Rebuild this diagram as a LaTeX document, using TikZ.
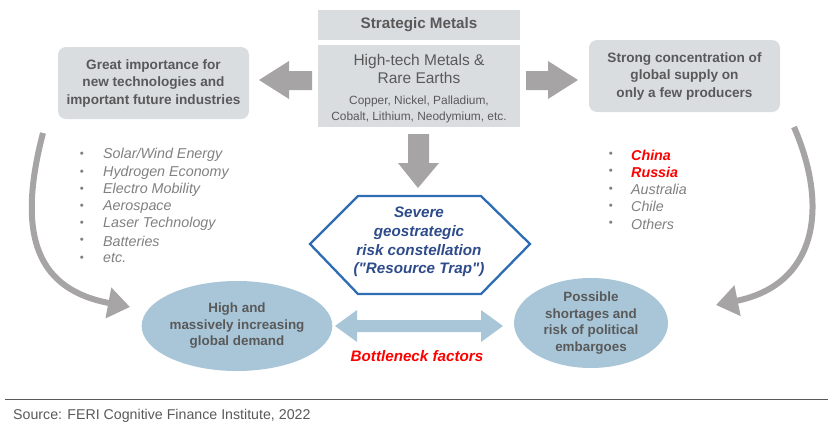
\documentclass[tikz,border=0pt]{standalone}
\usepackage{fontspec}
\setmainfont{Liberation Sans}
\newfontfamily\hexfont{Liberation Sans}
\usetikzlibrary{shapes.geometric,arrows.meta}
\definecolor{txtgray}{HTML}{595959}
\definecolor{boxgray}{HTML}{D9DDE0}
\definecolor{arrgray}{HTML}{A6A4A4}
\definecolor{ellblue}{HTML}{A8C6D8}
\definecolor{hexblue}{HTML}{2E6DB4}
\definecolor{hextxt}{HTML}{2F4C8A}
\definecolor{listgray}{HTML}{808080}
\tikzset{
  graybox/.style={fill=boxgray, rounded corners=8pt, inner sep=0pt, text=txtgray, font=\bfseries\fontsize{13.6}{17.5}\selectfont, align=center},
  sqbox/.style={fill=boxgray, inner sep=0pt, text=txtgray, align=center},
  ell/.style={ellipse, fill=ellblue, inner sep=0pt, text=txtgray, font=\bfseries\fontsize{13.4}{16.5}\selectfont, align=center},
  blockarrow/.style={fill=arrgray, draw=none},
  curvearrow/.style={draw=arrgray, line width=6pt, -{Triangle[length=22pt,width=30pt]}},
  listtxt/.style={anchor=west, inner sep=0pt, text=listgray, font=\itshape\fontsize{14.3}{17}\selectfont},
  bullet/.style={inner sep=0pt, text=listgray, font=\fontsize{11.5}{12}\selectfont},
}
\begin{document}
\begin{tikzpicture}[x=1pt,y=-1pt]
\useasboundingbox (0,0) rectangle (836,429);
% top boxes
\node[sqbox, minimum width=202pt, minimum height=30pt, font=\bfseries\fontsize{15.2}{16}\selectfont] (sm) at (419,25) {Strategic Metals};
\node[sqbox, minimum width=202pt, minimum height=82pt] (ht) at (419,86) {};
\node[text=txtgray, align=center, font=\fontsize{15.5}{18.5}\selectfont] (htt) at (419,69) {High-tech Metals \&\\Rare Earths};
\node[text=txtgray, align=center, font=\fontsize{11.9}{16}\selectfont] (htl) at (419,109) {Copper, Nickel, Palladium,\\Cobalt, Lithium, Neodymium, etc.};
% side boxes
\node[graybox, minimum width=191pt, minimum height=72pt] (lb) at (153.5,83) {Great importance for\\new technologies and\\important future industries};
\node[graybox, minimum width=191pt, minimum height=72pt] (rb) at (684.5,76) {Strong concentration of\\global supply on\\only a few producers};
% block arrows
\fill[blockarrow] (259,80) -- (289,61) -- (289,71) -- (312,71) -- (312,90) -- (289,90) -- (289,99) -- cycle;
\fill[blockarrow] (578,80) -- (548,61) -- (548,71) -- (526,71) -- (526,90) -- (548,90) -- (548,99) -- cycle;
\fill[blockarrow] (418,188) -- (398,163) -- (408,163) -- (408,134) -- (429,134) -- (429,163) -- (439,163) -- cycle;
% hexagon
\draw[hexblue, line width=2.3pt, fill=white] (358,196) -- (481,196) -- (530,244) -- (481,294) -- (358,294) -- (310,244) -- cycle;
\node[text=hextxt, align=center, font=\hexfont\bfseries\itshape\fontsize{15.2}{18.8}\selectfont] (hex) at (419,242) {Severe\\geostrategic\\risk constellation\\("Resource Trap")};
% ellipses
\node[ell, minimum width=170pt, minimum height=90pt] (le) at (237,326) {High and\\massively increasing\\global demand};
\node[ell, minimum width=154pt, minimum height=90pt] (re) at (591,323) {Possible\\shortages and\\risk of political\\embargoes};
% double arrow
\fill[ellblue] (335,326) -- (357,310) -- (357,320) -- (481,320) -- (481,310) -- (503,326) -- (481,342) -- (481,332) -- (357,332) -- (357,342) -- cycle;
\node[text=red, font=\bfseries\itshape\fontsize{15.2}{16}\selectfont] (bn) at (417,356) {Bottleneck factors};
% left list
\foreach \t [count=\i] in {Solar/Wind Energy, Hydrogen Economy, Electro Mobility, Aerospace, Laser Technology, Batteries, etc.}{
  \node[bullet] (lbul\i) at (82,{138+17.2*\i}) {•};
  \node[listtxt] (ll\i) at (103,{138+17.2*\i}) {\t};
}
% right list
\node[bullet] (rbul1) at (611,155) {•};
\node[listtxt, text=red, font=\bfseries\itshape\fontsize{14.3}{17}\selectfont] (rl1) at (631,155) {China};
\node[bullet] (rbul2) at (611,172.2) {•};
\node[listtxt, text=red, font=\bfseries\itshape\fontsize{14.3}{17}\selectfont] (rl2) at (631,172.2) {Russia};
\foreach \t [count=\i from 3] in {Australia, Chile, Others}{
  \node[bullet] (rbul\i) at (611,{138+17.2*\i}) {•};
  \node[listtxt] (rl\i) at (631,{138+17.2*\i}) {\t};
}
% curved arrows
\coordinate (ls) at (43,133);
\coordinate (le-tip) at (130,307);
\coordinate (rs) at (794,127);
\coordinate (re-tip) at (716,305);
\draw[curvearrow] (ls) .. controls (15,240) and (40,290) .. (le-tip);
\draw[curvearrow] (rs) .. controls (830,210) and (815,285) .. (re-tip);
% footer
\coordinate (fl) at (5,399);
\coordinate (fr) at (828,399);
\draw[txtgray, line width=0.8pt] (fl) -- (fr);
\node[anchor=west, inner sep=0pt, text=txtgray, font=\fontsize{14.2}{16}\selectfont] (src) at (13,416) {Source: FERI Cognitive Finance Institute, 2022};
\end{tikzpicture}
\end{document}
